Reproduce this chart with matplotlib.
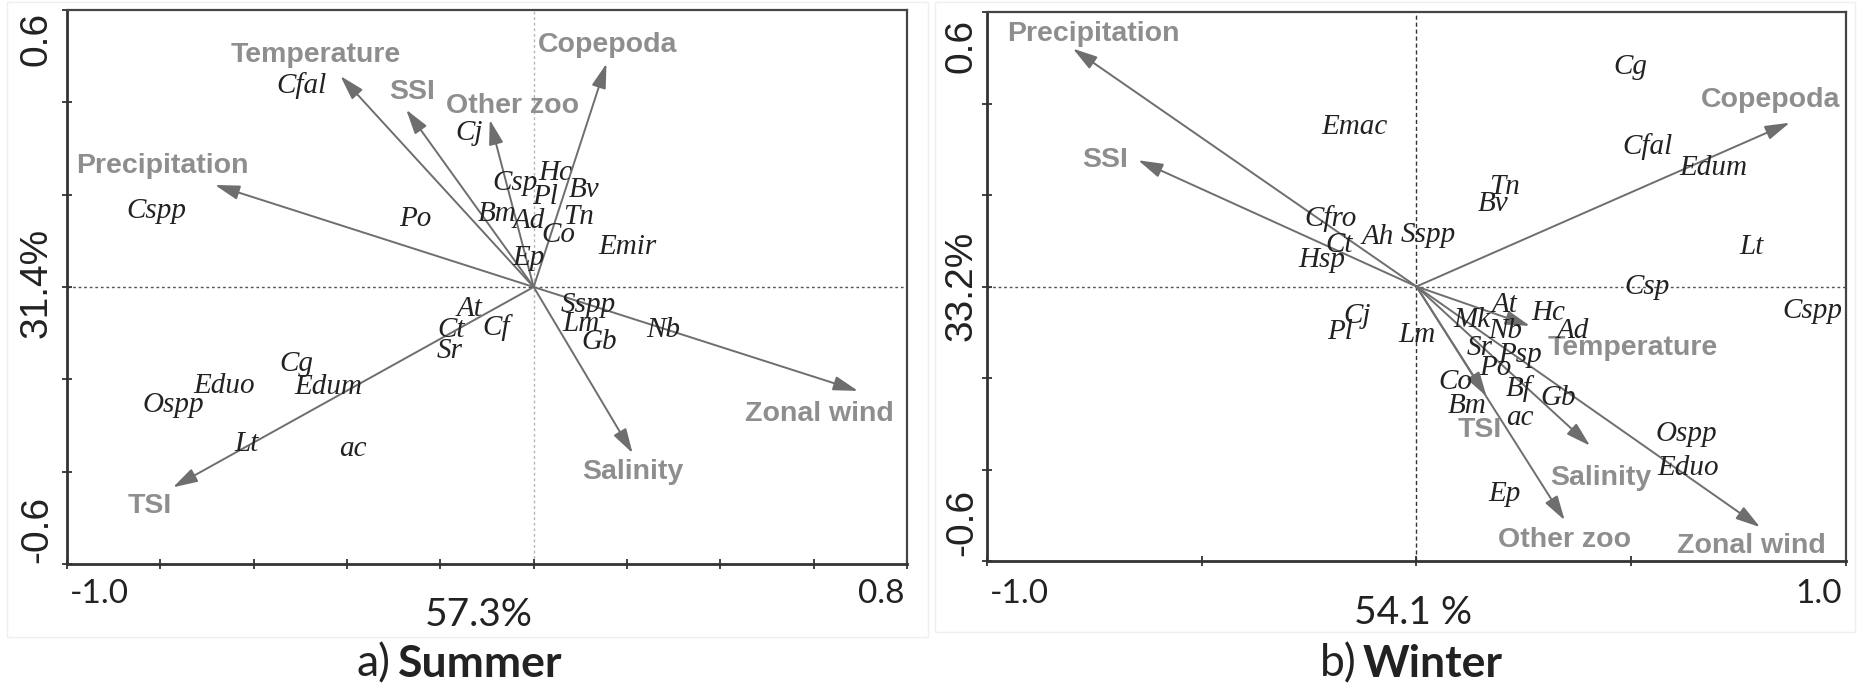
import matplotlib
matplotlib.use('Agg')
import matplotlib.pyplot as plt
import numpy as np

# Summer biplot: environmental vectors (arrow tips) and label spots
summer_env = ['Temperature', 'SSI', 'Other zoo', 'Copepoda', 'Precipitation',
              'Zonal wind', 'Salinity', 'TSI']
summer_env_x = [-0.414, -0.273, -0.094, 0.156, -0.683, 0.695, 0.212, -0.773]
summer_env_y = [0.457, 0.384, 0.362, 0.484, 0.221, -0.225, -0.360, -0.434]
summer_lab_x = [-0.468, -0.260, -0.045, 0.159, -0.796, 0.612, 0.212, -0.822]
summer_lab_y = [0.503, 0.423, 0.393, 0.525, 0.262, -0.276, -0.400, -0.474]

# Summer species scores
summer_sp = ['Cfal', 'Cj', 'Cspp', 'Po', 'Csp', 'Hc', 'Pl', 'Bv', 'Bm', 'Ad', 'Tn',
             'Co', 'Emir', 'Ep', 'Sspp', 'At', 'Ct', 'Cf', 'Lm', 'Nb', 'Gb', 'Sr',
             'Cg', 'Eduo', 'Edum', 'Ospp', 'Lt', 'ac']
summer_sp_x = [-0.497, -0.138, -0.808, -0.254, -0.039, 0.046, 0.025, 0.107, -0.079,
               -0.011, 0.096, 0.054, 0.200, -0.011, 0.116, -0.137, -0.176, -0.080,
               0.101, 0.278, 0.141, -0.180, -0.508, -0.664, -0.440, -0.773, -0.615,
               -0.388]
summer_sp_y = [0.437, 0.333, 0.165, 0.147, 0.225, 0.247, 0.196, 0.211, 0.158, 0.142,
               0.151, 0.113, 0.086, 0.063, -0.038, -0.048, -0.094, -0.087, -0.081,
               -0.093, -0.120, -0.139, -0.166, -0.215, -0.217, -0.256, -0.339, -0.350]

# Winter biplot
winter_env = ['Precipitation', 'SSI', 'Copepoda', 'Temperature', 'TSI', 'Salinity',
              'Other zoo', 'Zonal wind']
winter_env_x = [-0.800, -0.648, 0.869, 0.264, 0.163, 0.404, 0.345, 0.800]
winter_env_y = [0.520, 0.276, 0.358, -0.086, -0.240, -0.348, -0.511, -0.526]
winter_lab_x = [-0.752, -0.724, 0.825, 0.504, 0.148, 0.428, 0.345, 0.779]
winter_lab_y = [0.553, 0.276, 0.407, -0.134, -0.313, -0.418, -0.555, -0.567]

winter_sp = ['Cg', 'Emac', 'Cfal', 'Edum', 'Tn', 'Bv', 'Cfro', 'Ah', 'Sspp', 'Ct',
             'Hsp', 'Lt', 'Csp', 'Cspp', 'Cj', 'Pl', 'Lm', 'At', 'Hc', 'Mk', 'Nb',
             'Ad', 'Sr', 'Psp', 'Po', 'Co', 'Bf', 'Gb', 'Bm', 'ac', 'Ospp', 'Eduo',
             'Ep']
winter_sp_x = [0.497, -0.145, 0.538, 0.692, 0.204, 0.179, -0.200, -0.090, 0.028,
               -0.179, -0.221, 0.779, 0.536, 0.921, -0.138, -0.179, 0.000, 0.206,
               0.307, 0.128, 0.206, 0.365, 0.148, 0.241, 0.183, 0.090, 0.237, 0.330,
               0.118, 0.241, 0.628, 0.632, 0.204]
winter_sp_y = [0.480, 0.349, 0.305, 0.258, 0.218, 0.181, 0.148, 0.108, 0.112, 0.090,
               0.057, 0.086, 0.000, -0.053, -0.064, -0.100, -0.106, -0.040, -0.058,
               -0.073, -0.098, -0.098, -0.135, -0.149, -0.178, -0.208, -0.222,
               -0.244, -0.261, -0.288, -0.323, -0.396, -0.453]

W, H = 1858, 685
fig = plt.figure(figsize=(W / 100, H / 100), dpi=100)
fig.patch.set_facecolor('white')

def fx(px):
    return px / W

def fy(py):
    return 1 - py / H

ENV_COLOR = '#8e8e8e'
ARROW_COLOR = '#6e6e6e'
SP_COLOR = '#222222'
env_font = dict(family=['Liberation Sans', 'DejaVu Sans'], weight='bold',
                fontsize=20.5, color=ENV_COLOR)
sp_font = dict(family=['Liberation Serif', 'DejaVu Serif'], style='italic',
               fontsize=21, color=SP_COLOR)


def draw_panel(ax, xlim, xstep, env, ex, ey, lx, ly, sp, sx, sy, vcol, hcol, vls):
    ax.set_xlim(*xlim)
    ax.set_ylim(-0.6, 0.6)
    ax.set_xticks(np.arange(xlim[0], xlim[1] + 1e-6, xstep))
    ax.set_yticks(np.arange(-0.6, 0.61, 0.2))
    ax.set_xticklabels([])
    ax.set_yticklabels([])
    ax.tick_params(direction='inout', length=7, width=1.3, color='#333333')
    for side in ['left', 'bottom']:
        ax.spines[side].set_linewidth(2.0)
        ax.spines[side].set_color('#333333')
    for side in ['top', 'right']:
        ax.spines[side].set_linewidth(1.6)
        ax.spines[side].set_color('#444444')
    ax.axvline(0, color=vcol, lw=1.0, ls=vls, zorder=0)
    ax.axhline(0, color=hcol, lw=1.0, ls=(0, (2, 2)), zorder=0)
    for name, x, y, tx, ty in zip(env, ex, ey, lx, ly):
        ax.annotate('', xy=(x, y), xytext=(0, 0),
                    arrowprops=dict(arrowstyle='-|>,head_length=0.75,head_width=0.22',
                                    color=ARROW_COLOR, lw=1.4, mutation_scale=20,
                                    shrinkA=0, shrinkB=0))
        ax.text(tx, ty, name, ha='center', va='center', **env_font)
    for name, x, y in zip(sp, sx, sy):
        ax.text(x, y, name, ha='center', va='center', **sp_font)


# faint panel frames
for x0, x1, y1 in [(7, 928, 637), (935, 1855, 632)]:
    fig.patches.append(plt.Rectangle((fx(x0), fy(y1)), fx(x1 - x0), (y1 - 2) / H,
                                     transform=fig.transFigure, fill=False,
                                     ec='#efefef', lw=1.0))

ax1 = fig.add_axes([fx(67), fy(564), fx(907 - 67), (564 - 10) / H])
draw_panel(ax1, (-1.0, 0.8), 0.2, summer_env, summer_env_x, summer_env_y,
           summer_lab_x, summer_lab_y, summer_sp, summer_sp_x, summer_sp_y,
           '#b5b5b5', '#555555', (0, (2, 2)))

ax2 = fig.add_axes([fx(987), fy(561), fx(1846 - 987), (561 - 12) / H])
draw_panel(ax2, (-1.0, 1.0), 0.5, winter_env, winter_env_x, winter_env_y,
           winter_lab_x, winter_lab_y, winter_sp, winter_sp_x, winter_sp_y,
           '#333333', '#555555', (0, (3, 2)))

# axis annotations
yfont = dict(family=['Liberation Sans', 'DejaVu Sans'], fontsize=28, color='#222222',
             rotation=90, ha='center', va='center')
xfont = dict(family=['Lato', 'DejaVu Sans'], fontsize=24, color='#222222', va='center')
pfont = dict(family=['Lato', 'DejaVu Sans'], fontsize=28, color='#222222',
             va='center', ha='center')

fig.text(fx(37), fy(39), '0.6', **yfont)
fig.text(fx(37), fy(283), '31.4%', **yfont)
fig.text(fx(37), fy(529), '-0.6', **yfont)
fig.text(fx(70), fy(594), '-1.0', ha='left', **xfont)
fig.text(fx(905), fy(594), '0.8', ha='right', **xfont)
fig.text(fx(479), fy(615), '57.3%', **pfont)

fig.text(fx(962), fy(46), '0.6', **yfont)
fig.text(fx(962), fy(286), '33.2%', **yfont)
fig.text(fx(962), fy(522), '-0.6', **yfont)
fig.text(fx(990), fy(594), '-1.0', ha='left', **xfont)
fig.text(fx(1842), fy(594), '1.0', ha='right', **xfont)
fig.text(fx(1413), fy(613), '54.1 %', **pfont)

tfont = dict(family=['Lato', 'DejaVu Sans'], fontsize=32, color='#222222', va='center')
fig.text(fx(391), fy(664), 'a)', ha='right', **tfont)
fig.text(fx(398), fy(664), 'Summer', ha='left', weight='bold', **tfont)
fig.text(fx(1357), fy(664), 'b)', ha='right', **tfont)
fig.text(fx(1363), fy(664), 'Winter', ha='left', weight='bold', **tfont)

fig.savefig('out.png', dpi=100, facecolor='white')
